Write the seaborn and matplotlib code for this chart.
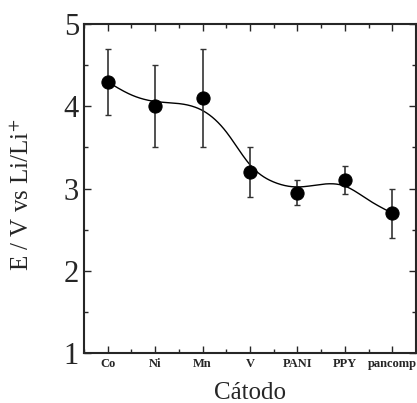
import numpy as np
import pandas as pd
from matplotlib import pyplot as plt
import seaborn as sns

# data
cathodes = ['Co', 'Ni', 'Mn', 'V', 'PANI', 'PPY', 'pancomp']
potential = [4.3, 4.0, 4.1, 3.2, 2.95, 3.1, 2.7]
err_low = [3.9, 3.5, 3.5, 2.9, 2.8, 2.93, 2.4]
err_high = [4.7, 4.5, 4.7, 3.5, 3.1, 3.27, 3.0]

# smooth guide line: values read at each cathode and half-way between
curve_pos = [0, 0.5, 1, 2, 2.5, 3, 3.5, 4, 5, 5.5, 6]
curve_val = [4.3, 4.14, 4.06, 3.95, 3.69, 3.29, 3.08, 3.02, 3.03, 2.86, 2.7]

sns.set_style('ticks')
plt.rcParams['font.family'] = ['Liberation Serif', 'DejaVu Serif']
plt.rcParams['mathtext.fontset'] = 'stix'


def natural_spline(x, y, xs):
    x = np.asarray(x, float)
    y = np.asarray(y, float)
    n = len(x)
    h = np.diff(x)
    A = np.zeros((n, n))
    b = np.zeros(n)
    A[0, 0] = A[-1, -1] = 1
    for i in range(1, n - 1):
        A[i, i - 1] = h[i - 1]
        A[i, i] = 2 * (h[i - 1] + h[i])
        A[i, i + 1] = h[i]
        b[i] = 6 * ((y[i + 1] - y[i]) / h[i] - (y[i] - y[i - 1]) / h[i - 1])
    m = np.linalg.solve(A, b)
    idx = np.clip(np.searchsorted(x, xs) - 1, 0, n - 2)
    t0 = x[idx]
    t1 = x[idx + 1]
    hh = t1 - t0
    a = (t1 - xs) / hh
    c = (xs - t0) / hh
    return (a * y[idx] + c * y[idx + 1]
            + ((a ** 3 - a) * m[idx] + (c ** 3 - c) * m[idx + 1]) * hh ** 2 / 6)


df = pd.DataFrame({'pos': np.arange(len(cathodes)), 'E': potential})
xs = np.linspace(0, len(cathodes) - 1, 300)
curve = pd.DataFrame({'pos': xs, 'E': natural_spline(curve_pos, curve_val, xs)})

fig = plt.figure(figsize=(4.17, 4.03), dpi=100)
ax = fig.add_axes([0.201, 0.124, 0.797, 0.816])

sns.lineplot(data=curve, x='pos', y='E', color='black', lw=1.0, ax=ax)
yerr = [np.array(potential) - np.array(err_low), np.array(err_high) - np.array(potential)]
ax.errorbar(df['pos'], df['E'], yerr=yerr, fmt='none', ecolor='#333333',
            elinewidth=1.2, capsize=2.5, capthick=1.0)
sns.scatterplot(data=df, x='pos', y='E', color='black', s=90,
                edgecolor='black', zorder=5, ax=ax)

ax.set_xlim(-0.5, 6.5)
ax.set_ylim(1, 5)
ax.set_xticks(range(len(cathodes)))
ax.set_xticklabels(cathodes, fontsize=9, fontweight='bold')
ax.set_xticks(np.arange(-0.5, 6.6, 1), minor=True)
ax.set_yticks([1, 2, 3, 4, 5])
ax.set_yticks(np.arange(1.5, 5, 1), minor=True)
ax.tick_params(axis='y', labelsize=22)
ax.tick_params(which='both', direction='in', top=True, right=True, width=1.0)
ax.tick_params(which='major', length=5)
ax.tick_params(which='minor', length=3)
for s in ax.spines.values():
    s.set_linewidth(1.5)

ax.set_xlabel('Cátodo', fontsize=18, labelpad=9)
ax.set_ylabel('E / V vs Li/Li$^{+}$', fontsize=18)
ax.yaxis.set_label_coords(-0.15, 0.48)

fig.savefig('out.png', dpi=100)
